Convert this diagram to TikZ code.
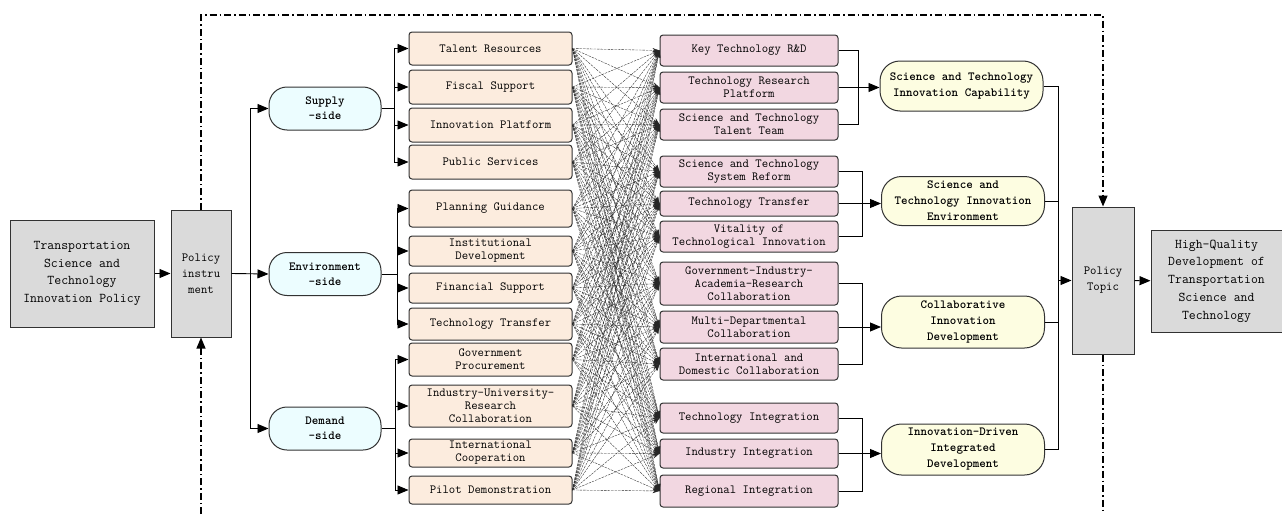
\documentclass[tikz,border=0pt]{standalone}
\usetikzlibrary{arrows.meta,positioning}
\definecolor{boxgray}{RGB}{218,218,218}
\definecolor{sidefill}{RGB}{236,253,255}
\definecolor{instrfill}{RGB}{252,236,222}
\definecolor{goalfill}{RGB}{242,215,225}
\definecolor{topicfill}{RGB}{253,253,225}
\definecolor{edgegray}{RGB}{50,50,50}
\newcommand\largetext{\ttfamily\fontsize{13.4}{17.7}\selectfont}

\tikzset{
  every node/.style={font=\ttfamily\fontsize{12.4}{13}\selectfont, align=center, inner sep=0pt},
  graybox/.style={draw=edgegray, fill=boxgray, line width=1pt},
  sidepill/.style={draw=edgegray, fill=sidefill, line width=1pt, rounded corners=18pt,
    minimum width=112pt, minimum height=43pt, font=\ttfamily\bfseries\fontsize{12.4}{15}\selectfont},
  instrbox/.style={draw=edgegray, fill=instrfill, line width=1pt, rounded corners=3pt, minimum width=163pt},
  goalbox/.style={draw=edgegray, fill=goalfill, line width=1pt, rounded corners=3pt, minimum width=178pt},
  topicpill/.style={draw=edgegray, fill=topicfill, line width=1pt, rounded corners=20pt,
    minimum width=163pt, font=\ttfamily\bfseries\fontsize{12.4}{16}\selectfont},
  bar/.style={draw=black, line width=0.9pt},
  link/.style={bar, -{Triangle[length=11pt,width=9pt]}},
  cross/.style={draw=black!85, line width=0.35pt, dash pattern=on 2.5pt off 1pt, -{Stealth[length=7pt,width=4.5pt]}},
  feedback/.style={draw=black, line width=1.2pt, dash pattern=on 7pt off 3pt on 1.5pt off 3pt}
}

\begin{document}
\begin{tikzpicture}[x=1pt,y=-1pt]
\useasboundingbox (0,0) rectangle (1282,514);

\node[graybox, minimum width=144pt, minimum height=107pt, font=\largetext] (tsp) at (82,273.5)
  {Transportation\\Science and\\Technology\\Innovation Policy};
\node[graybox, minimum width=60pt, minimum height=127pt, font=\ttfamily\fontsize{12.4}{16}\selectfont] (pi) at (201,273.5)
  {Policy\\instru\\ment};

\node[sidepill] (sup) at (325,108.5) {Supply\\-side};
\node[sidepill] (envs) at (325,274) {Environment\\-side};
\node[sidepill] (dem) at (325,428.5) {Demand\\-side};

% policy instruments
\foreach \n/\y/\h/\t in {1/48.5/33/{Talent Resources}, 2/87/34/{Fiscal Support},
  3/125/34/{Innovation Platform}, 4/162/34/{Public Services},
  5/208.5/37/{Planning Guidance}, 6/251/30/{Institutional\\Development},
  7/288/30/{Financial Support}, 8/324/32/{Technology Transfer},
  9/359.5/33/{Government\\Procurement}, 10/406/42/{Industry-University-\\Research\\Collaboration},
  11/453/28/{International\\Cooperation}, 12/490/28/{Pilot Demonstration}}
  \node[instrbox, minimum height=\h pt] (l\n) at (490.5,\y) {\t};

% policy topics
\foreach \n/\y/\h/\t in {1/50.5/31/{Key Technology R\&D}, 2/87.5/31/{Technology Research\\Platform},
  3/124.5/31/{Science and Technology\\Talent Team}, 4/171.5/31/{Science and Technology\\System Reform},
  5/203.5/25/{Technology Transfer}, 6/236.5/31/{Vitality of\\Technological Innovation},
  7/283.5/43/{Government-Industry-\\Academia-Research\\Collaboration}, 8/327/32/{Multi-Departmental\\Collaboration},
  9/364/32/{International and\\Domestic Collaboration}, 10/418/30/{Technology Integration},
  11/453.5/29/{Industry Integration}, 12/491/32/{Regional Integration}}
  \node[goalbox, minimum height=\h pt] (r\n) at (749,\y) {\t};

\node[topicpill, minimum height=50pt] (cap) at (961.5,86) {Science and Technology\\Innovation Capability};
\node[topicpill, minimum height=49pt] (envt) at (963,201) {Science and\\Technology Innovation\\Environment};
\node[topicpill, minimum height=52pt] (colab) at (963,322) {Collaborative\\Innovation\\Development};
\node[topicpill, minimum height=51pt] (integ) at (963,449.5) {Innovation-Driven\\Integrated\\Development};

\node[graybox, minimum width=62pt, minimum height=147pt, font=\ttfamily\fontsize{12.4}{16}\selectfont] (topic) at (1103,280.5)
  {Policy\\Topic};
\node[graybox, minimum width=131pt, minimum height=102pt, font=\largetext] (hq) at (1216.5,281)
  {High-Quality\\Development of\\Transportation\\Science and\\Technology};

% main flow
\draw[link] (tsp) -- (pi);
\coordinate (split) at (250,273.5);
\draw[link] (pi.east) -- (envs.west);
\draw[link] (split) |- (sup.west);
\draw[link] (split) |- (dem.west);

\draw[bar] (sup.east) -- ++(13,0) coordinate (sb);
\foreach \n in {1,...,4} \draw[link] (sb) |- (l\n.west);
\draw[bar] (envs.east) -- ++(16,0) coordinate (eb);
\foreach \n in {5,...,8} \draw[link] (eb) |- (l\n.west);
\draw[bar] (dem.east) -- ++(14,0) coordinate (db);
\foreach \n in {9,...,12} \draw[link] (db) |- (l\n.west);

% every instrument to every topic
\foreach \i in {1,...,12}
  \foreach \j in {1,...,12}
    \draw[cross] (l\i.east) -- (r\j.west);

\draw[bar] (r1.east) -- ++(20,0) |- (r3.east);
\draw[bar] (r2.east) -- ++(20,0) coordinate (k1);
\draw[link] (k1) -- (cap.west |- k1);
\draw[bar] (r4.east) -- ++(24,0) |- (r6.east);
\draw[bar] (r5.east) -- ++(24,0) coordinate (k2);
\draw[link] (k2) -- (envt.west |- k2);
\draw[bar] (r7.east) -- ++(24,0) |- (r9.east);
\draw[bar] (r8.east) -- ++(24,0) coordinate (k3);
\draw[link] (k3) -- (colab.west |- k3);
\draw[bar] (r10.east) -- ++(24,0) |- (r12.east);
\draw[bar] (r11.east) -- ++(24,0) coordinate (k4);
\draw[link] (k4) -- (integ.west |- k4);

\coordinate (tj) at (1058,280.5);
\draw[bar] (cap.east) -| (tj);
\draw[bar] (integ.east) -| (tj);
\draw[bar] (envt.east) -- (envt.east -| tj);
\draw[bar] (colab.east) -- (colab.east -| tj);
\draw[link] (tj) -- (topic.west);
\draw[link] (topic) -- (hq);

% feedback frame
\coordinate (tl) at (201,15);
\coordinate (tr) at (1103,15);
\coordinate (bl) at (201,514);
\coordinate (br) at (1103,514);
\draw[feedback, -{Triangle[length=11pt,width=9pt]}] (pi.north) -- (tl) -- (tr) -- (topic.north);
\draw[feedback] (topic.south) -- (br);
\draw[feedback, -{Triangle[length=11pt,width=9pt]}] (bl) -- (pi.south);
\end{tikzpicture}
\end{document}
